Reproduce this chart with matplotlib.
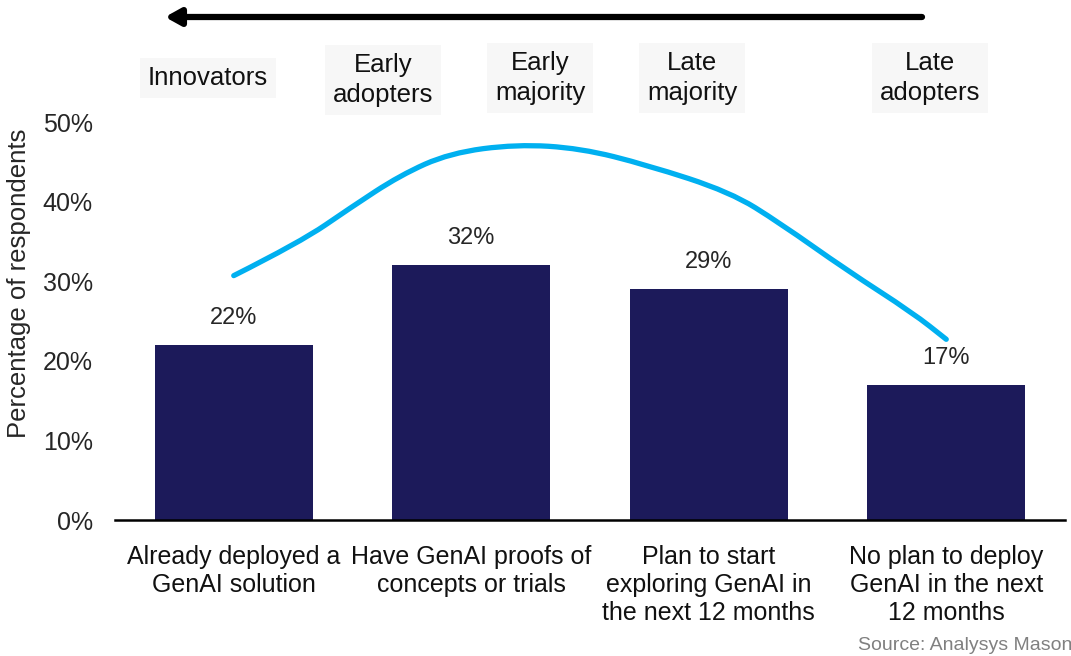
import numpy as np
import matplotlib.pyplot as plt
from matplotlib.path import Path
from matplotlib.patches import PathPatch

categories = ['Already deployed a\nGenAI solution',
              'Have GenAI proofs of\nconcepts or trials',
              'Plan to start\nexploring GenAI in\nthe next 12 months',
              'No plan to deploy\nGenAI in the next\n12 months']
values = [22, 32, 29, 17]

# adoption curve (x in bar units, y in %)
curve_x = [0.0, 0.28, 0.49, 0.70, 0.91, 1.19, 1.46, 1.74, 2.09, 2.30, 2.58, 2.86, 3.0]
curve_y = [30.7, 34.9, 39.2, 43.3, 46.1, 47.2, 46.7, 44.6, 41.2, 37.3, 31.4, 26.0, 22.7]

stages = ['Innovators', 'Early\nadopters', 'Early\nmajority', 'Late\nmajority', 'Late\nadopters']
stage_x = [208, 383, 540, 692, 930]   # pixel centres
stage_y = [78, 80, 78, 78, 78]

W, H = 1071, 656
fig = plt.figure(figsize=(W/100, H/100), dpi=100)
ax = fig.add_axes([115/W, 1-520/H, 950/W, 398/H])

tick_font = 'Liberation Sans'
txt_col = '#262626'
x = np.arange(len(values))
ax.bar(x, values, width=0.665, color='#1c1a5a')
for xi, v in zip(x, values):
    ax.text(xi, v + 2.0, f'{v}%', ha='center', va='bottom', fontsize=17,
            family=tick_font, color=txt_col)

# smooth the read points with quadratic segments through midpoints
pts = list(zip(curve_x, curve_y))
verts = [pts[0]]
codes = [Path.MOVETO]
for i in range(1, len(pts) - 1):
    mid = ((pts[i][0] + pts[i+1][0]) / 2, (pts[i][1] + pts[i+1][1]) / 2)
    verts += [pts[i], mid]
    codes += [Path.CURVE3, Path.CURVE3]
verts.append(pts[-1])
codes.append(Path.LINETO)
ax.add_patch(PathPatch(Path(verts, codes), fc='none', ec='#00b0f0', lw=3.8,
                       capstyle='round'))

ax.set_xlim(-0.5, 3.5)
ax.set_ylim(0, 50)
ax.set_yticks(range(0, 51, 10))
ax.set_yticklabels([f'{t}%' for t in range(0, 51, 10)], family=tick_font,
                   fontsize=18, color=txt_col)
ax.set_xticks(x)
ax.set_xticklabels(categories, family=tick_font, fontsize=18, color='#111111',
                   linespacing=1.2)
ax.tick_params(length=0, pad=16)
ax.tick_params(axis='x', pad=18)
for s in ['left', 'right', 'top']:
    ax.spines[s].set_visible(False)
ax.spines['bottom'].set_linewidth(1.8)
ax.set_ylabel('Percentage of respondents', family=tick_font, fontsize=18.5,
              color=txt_col)
ax.yaxis.set_label_coords(-0.088, 0.595)

# arrow along the top
ax.annotate('', xy=(165/W, 1-17/H), xytext=(922/W, 1-17/H),
            xycoords='figure fraction', textcoords='figure fraction',
            arrowprops=dict(arrowstyle='-|>,head_length=0.9,head_width=0.5',
                            color='black', lw=4.5, shrinkA=0, shrinkB=0))

for s, sx, sy in zip(stages, stage_x, stage_y):
    fig.text(sx/W, 1-sy/H, s, ha='center', va='center', fontsize=18.5,
             family=tick_font, linespacing=1.35, color='#111111',
             bbox=dict(boxstyle='square,pad=0.3', fc='#f7f7f7', ec='none'))

fig.text(858/W, 1-645/H, 'Source: Analysys Mason', fontsize=14, color='#808080',
         family=tick_font, va='center', ha='left')

fig.savefig('out.png', dpi=100)
